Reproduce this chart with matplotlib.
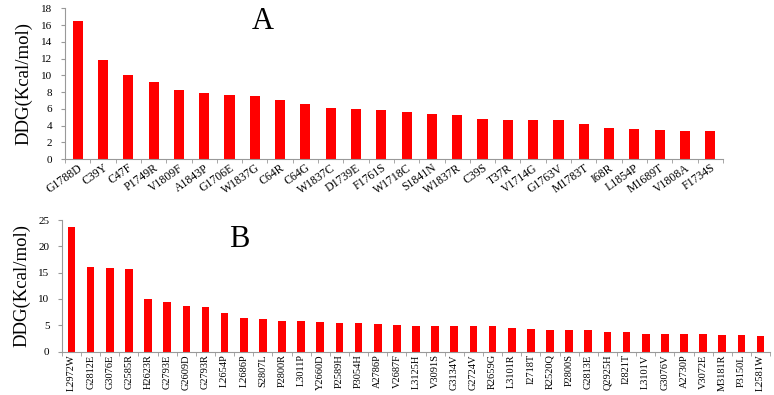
import numpy as np
import matplotlib
matplotlib.use("Agg")
import matplotlib.pyplot as plt
from matplotlib.ticker import FixedLocator

plt.rcParams['font.family'] = ['Liberation Serif', 'DejaVu Serif']

labels_a = ['G1788D', 'C39Y', 'C47F', 'P1749R', 'V1809F', 'A1843P', 'G1706E', 'W1837G',
            'C64R', 'C64G', 'W1837C', 'D1739E', 'F1761S', 'W1718C', 'S1841N', 'W1837R',
            'C39S', 'T37R', 'V1714G', 'G1763V', 'M1783T', 'I68R', 'L1854P', 'M1689T',
            'V1808A', 'F1734S']
ddg_a = [16.5, 11.8, 10.0, 9.15, 8.3, 7.85, 7.63, 7.58, 7.02, 6.63, 6.15, 6.0, 5.87,
         5.64, 5.4, 5.24, 4.8, 4.72, 4.72, 4.68, 4.17, 3.77, 3.65, 3.49, 3.41, 3.33]

labels_b = ['L2972W', 'G2812E', 'G3076E', 'G2585R', 'H2623R', 'G2793E', 'G2609D', 'G2793R',
            'L2654P', 'L2686P', 'S2807L', 'P2800R', 'L3011P', 'Y2660D', 'P2589H', 'P3054H',
            'A2786P', 'V2687F', 'L3125H', 'V3091S', 'G3134V', 'G2724V', 'R2659G', 'L3101R',
            'I2718T', 'R2520Q', 'P2800S', 'G2813E', 'Q2925H', 'I2821T', 'L3101V', 'G3076V',
            'A2730P', 'V3072E', 'M3181R', 'P3150L', 'L2581W']
ddg_b = [23.7, 16.0, 15.9, 15.7, 9.9, 9.4, 8.6, 8.5, 7.4, 6.4, 6.2, 5.85, 5.8, 5.55,
         5.4, 5.35, 5.2, 5.0, 4.9, 4.85, 4.85, 4.85, 4.85, 4.4, 4.2, 4.15, 4.1, 4.1,
         3.7, 3.7, 3.35, 3.3, 3.3, 3.3, 3.15, 3.1, 2.95]

fig = plt.figure(figsize=(7.74, 3.95), dpi=100)
ax_a = fig.add_axes([0.084, 0.597, 0.850, 0.382])
ax_b = fig.add_axes([0.080, 0.110, 0.915, 0.333])


def style(ax, labels, values, ymax, ystep, rot, ha, letter, lx, ly, label_size):
    x = np.arange(len(labels))
    ax.bar(x, values, width=0.4, color='#ff0000')
    ax.set_xlim(-0.5, len(labels) - 0.5)
    ax.set_ylim(0, ymax)
    ax.set_yticks(np.arange(0, ymax + 0.1, ystep))
    ax.set_xticks(x)
    ax.set_xticklabels(labels, rotation=rot, ha=ha, fontsize=label_size,
                       rotation_mode='anchor' if rot != 90 else 'default')
    ax.tick_params(axis='x', length=0, pad=2)
    ax.xaxis.set_minor_locator(FixedLocator(np.arange(-0.5, len(labels), 1.0)))
    ax.tick_params(axis='x', which='minor', length=3, color='#999999', direction='out')
    ax.tick_params(axis='y', length=3, color='#999999', labelsize=8, pad=6)
    for s in ['top', 'right']:
        ax.spines[s].set_visible(False)
    for s in ['left', 'bottom']:
        ax.spines[s].set_color('#999999')
        ax.spines[s].set_linewidth(0.8)
    ax.set_ylabel('DDG(Kcal/mol)', fontsize=13.5, labelpad=6)
    ax.text(lx, ly, letter, transform=ax.transAxes, fontsize=22, ha='center', va='center')


style(ax_a, labels_a, ddg_a, 18, 2, 35, 'right', 'A', 0.30, 0.91, 8.5)
style(ax_b, labels_b, ddg_b, 25, 5, 90, 'center', 'B', 0.25, 0.85, 7.5)

fig.savefig('out.png', dpi=100)
